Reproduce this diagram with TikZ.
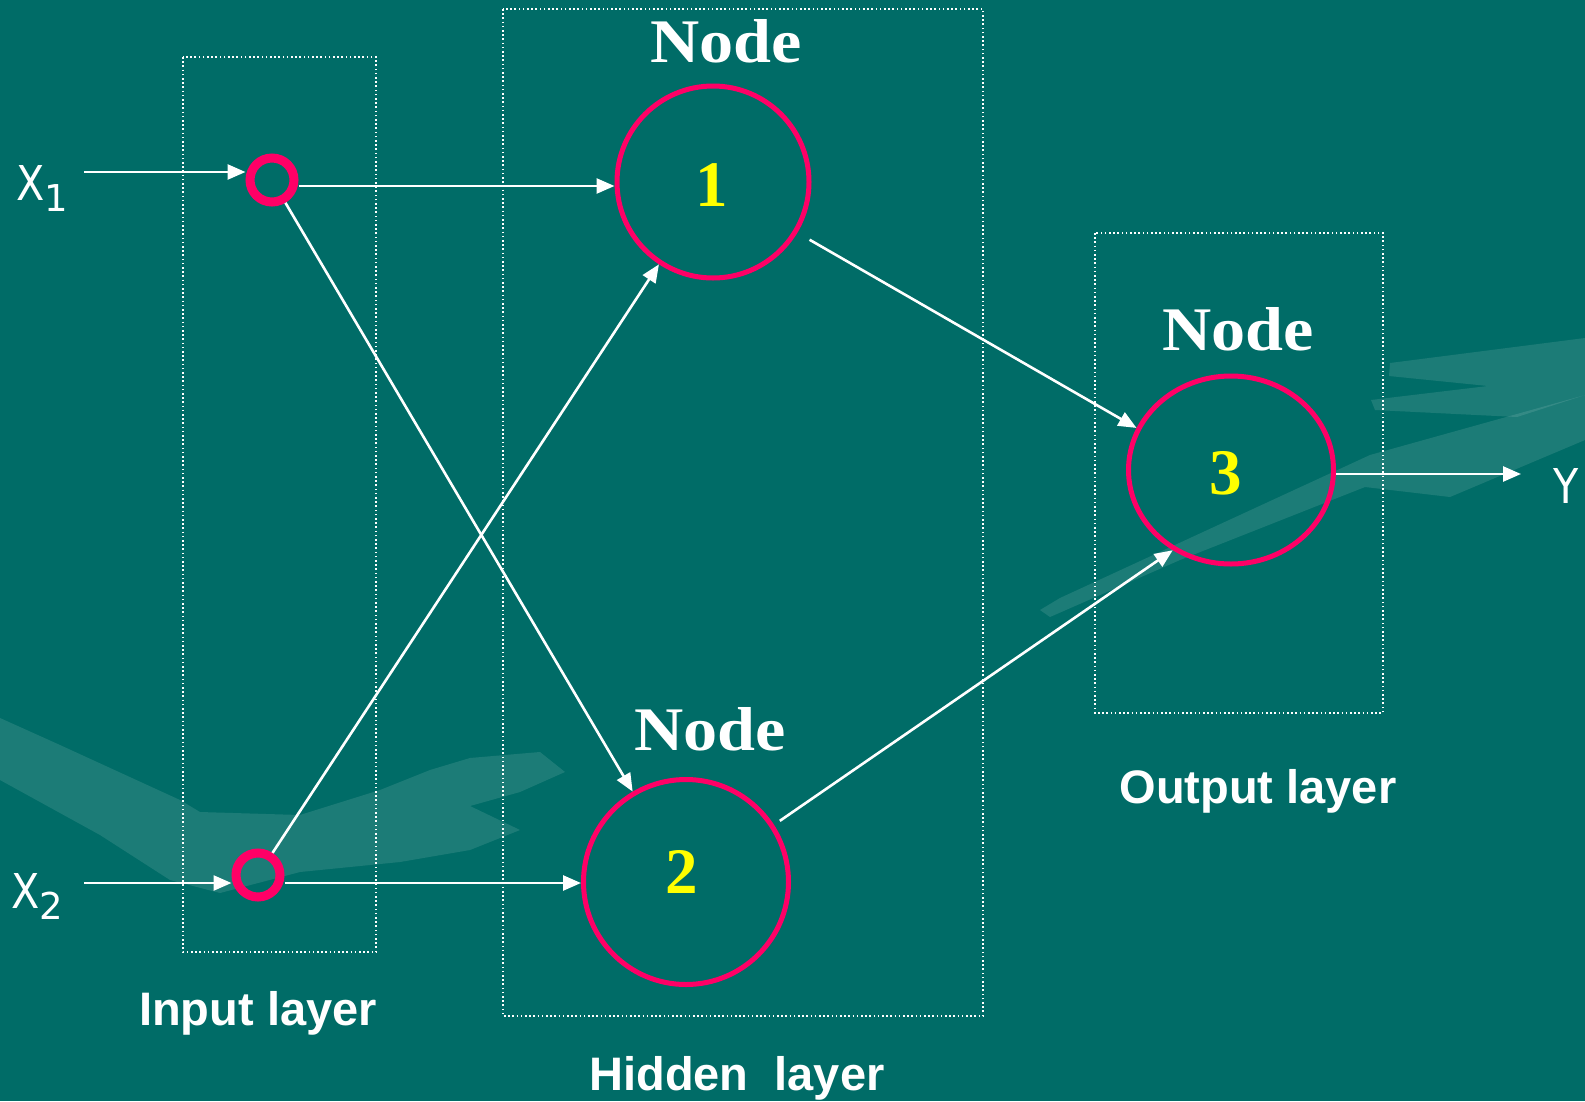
\documentclass[tikz,border=0pt]{standalone}
\usepackage{fontspec}
\setmainfont{Liberation Serif}
\newfontfamily\arialf{Liberation Sans}
\newfontfamily\tahf{DejaVu Sans}
\usetikzlibrary{arrows.meta,shapes.geometric}
\definecolor{bgteal}{HTML}{006C67}
\definecolor{ringpink}{HTML}{FF0066}
\definecolor{numyellow}{HTML}{FFFF00}
\begin{document}
\begin{tikzpicture}[x=1pt,y=-1pt,
  inring/.style={circle, draw=ringpink, line width=9pt, minimum size=44pt, inner sep=0pt},
  bigring/.style={circle, draw=ringpink, line width=5pt, inner sep=0pt},
  ovring/.style={ellipse, draw=ringpink, line width=5pt, inner sep=0pt},
  arr/.style={draw=white, line width=2.6pt, -{Triangle[length=18pt,width=15pt]}},
  layerbox/.style={draw=white, line width=1.6pt, dash pattern=on 1.6pt off 2.6pt},
  nodelbl/.style={text=white, anchor=base, inner sep=0pt, font=\fontsize{62}{62}\selectfont\bfseries},
  numlbl/.style={text=numyellow, anchor=base, inner sep=0pt, font=\fontsize{65}{65}\selectfont\bfseries},
  layerlbl/.style={text=white, anchor=base, inner sep=0pt, font=\arialf\fontsize{47}{47}\selectfont\bfseries},
  iolbl/.style={text=white, anchor=base west, inner sep=0pt, font=\tahf\fontsize{48}{48}\selectfont},
  faint/.style={fill=white, fill opacity=0.11, draw=none}
]
\fill[bgteal] (0,0) rectangle (1585,1101);
\useasboundingbox (0,0) rectangle (1585,1101);

% faint background decoration
\fill[faint] (0,718) -- (60,745) -- (180,800) -- (200,812) -- (300,815) -- (380,790) -- (430,770) -- (470,758) -- (540,752) -- (565,772) -- (520,792) -- (470,806) -- (520,830) -- (470,850) -- (400,862) -- (300,872) -- (220,893) -- (170,880) -- (100,835) -- (0,780) -- cycle;
\fill[faint] (1040,610) -- (1060,598) -- (1370,455) -- (1585,395) -- (1585,440) -- (1450,497) -- (1365,487) -- (1180,560) -- (1050,617) -- cycle;
\fill[faint] (1390,363) -- (1585,338) -- (1585,395) -- (1517,417) -- (1375,410) -- (1371,400) -- (1488,386) -- (1389,376) -- cycle;

% layer boxes
\draw[layerbox] (183,57) rectangle (376,952);
\draw[layerbox] (503,9) rectangle (983,1016);
\draw[layerbox] (1095,233) rectangle (1383,713);

% nodes
\node[inring] (i1) at (272,180) {};
\node[inring] (i2) at (258,875) {};
\node[bigring, minimum size=192pt] (h1) at (713,182) {};
\node[bigring, minimum size=205pt] (h2) at (686,882) {};
\node[ovring, minimum width=205pt, minimum height=188pt] (o3) at (1231,470) {};

\node[numlbl] (n1) at (712,206) {1};
\node[numlbl] (n2) at (682,893) {2};
\node[numlbl] (n3) at (1226,494) {3};

\node[nodelbl] (t1) at (726,62) {\scalebox{1.1}[1]{Node}};
\node[nodelbl] (t2) at (710,750) {\scalebox{1.1}[1]{Node}};
\node[nodelbl] (t3) at (1238,350) {\scalebox{1.1}[1]{Node}};

\node[layerlbl] (linput) at (258,1025) {Input layer};
\node[layerlbl] (lhidden) at (737,1090) {Hidden~~layer};
\node[layerlbl] (loutput) at (1258,803) {Output layer};

\node[iolbl] (x1) at (16,200) {\scalebox{0.86}[1]{X}\raisebox{-11pt}{\fontsize{37}{37}\selectfont 1}};
\node[iolbl] (x2) at (11,908) {\scalebox{0.86}[1]{X}\raisebox{-11pt}{\fontsize{37}{37}\selectfont 2}};
\node[iolbl] (ylab) at (1553,503) {\scalebox{0.86}[1]{Y}};

\coordinate (x1s) at (84,172);
\coordinate (x2s) at (84,883);
\coordinate (yend) at (1521,474);

% connectors
\draw[arr] (x1s) -- (x1s -| i1.west);
\draw[arr] (x2s) -- (x2s -| i2.west);
\draw[arr] ([yshift=-6pt]i1.east) -- ([yshift=-4pt]h1.west);
\draw[arr] (i1) -- (h2);
\draw[arr] (i2) -- (h1);
\draw[arr] ([yshift=-8pt]i2.east) -- ([yshift=-1pt]h2.west);
\draw[arr, shorten <=14pt] (h1.-31) -- (o3.156);
\draw[arr, shorten <=7pt] (h2.33) -- (o3.234);
\draw[arr] ([yshift=-4pt]o3.east) -- (yend);
\end{tikzpicture}
\end{document}
